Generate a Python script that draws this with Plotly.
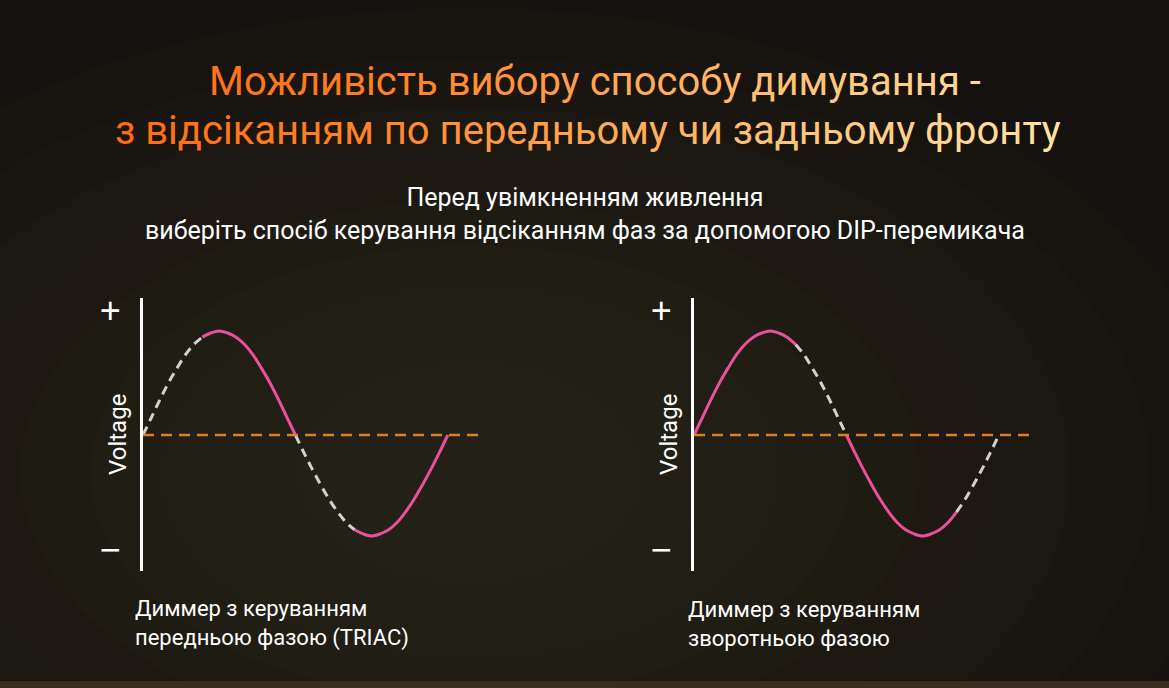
import plotly.graph_objects as go

# one mains cycle, phase angle in degrees and normalised voltage
phase = [0, 10, 20, 30, 40, 50, 60, 70, 80, 90, 100, 110, 120, 130, 140, 150, 160, 170, 180,
         190, 200, 210, 220, 230, 240, 250, 260, 270, 280, 290, 300, 310, 320, 330, 340, 350, 360]
voltage = [0, 0.17, 0.34, 0.5, 0.64, 0.77, 0.87, 0.94, 0.98, 1.0, 0.98, 0.94, 0.87, 0.77, 0.64, 0.5, 0.34, 0.17, 0,
           -0.17, -0.33, -0.48, -0.62, -0.74, -0.84, -0.91, -0.95, -0.97, -0.95, -0.91, -0.84, -0.74, -0.62, -0.48, -0.33, -0.17, 0]

# (start, end, conducting?) segments of the cycle for each dimmer
leading_segments = [(0, 70, False), (70, 180, True), (180, 250, False), (250, 360, True)]
trailing_segments = [(0, 120, True), (120, 180, False), (180, 310, True), (310, 360, False)]

title_lines = ["Можливість вибору способу димування -",
               "з відсіканням по передньому чи задньому фронту"]
subtitle = "Перед увімкненням живлення<br>виберіть спосіб керування відсіканням фаз за допомогою DIP-перемикача"
captions = ["Диммер з керуванням<br>передньою фазою (TRIAC)",
            "Диммер з керуванням<br>зворотньою фазою"]

PINK = "#E8509C"
GREY = "#D0D0D0"
ORANGE = "#E27D22"
FONT = "Roboto"
BG = "#15110E"

W, H = 1169, 688


def px_x(p):
    return p / W


def px_y(p):
    return 1 - p / H


def lerp_color(stops, t):
    t = min(max(t, 0), 1)
    for (t0, c0), (t1, c1) in zip(stops, stops[1:]):
        if t0 <= t <= t1:
            f = (t - t0) / (t1 - t0) if t1 > t0 else 0
            rgb = [int(round(int(c0[i:i + 2], 16) + f * (int(c1[i:i + 2], 16) - int(c0[i:i + 2], 16))))
                   for i in (1, 3, 5)]
            return "#%02X%02X%02X" % tuple(rgb)
    return stops[-1][1]


grad = [(0.0, "#FF6A12"), (0.3, "#FF8428"), (0.55, "#FFAC5A"), (0.8, "#FFCD86"), (1.0, "#FFE4A4")]


def gradient_text(line, x0, x1):
    # colour each character by its horizontal position on the page
    out = []
    n = len(line)
    for i, ch in enumerate(line):
        xpos = x0 + (x1 - x0) * (i + 0.5) / n
        t = (xpos - 118) / (1058 - 118)
        out.append(f'<span style="color:{lerp_color(grad, t)}">{ch}</span>')
    return "".join(out)


fig = go.Figure()

panels = [("x", "y", leading_segments), ("x2", "y2", trailing_segments)]
for xa, ya, segs in panels:
    for a, b, on in segs:
        i0, i1 = phase.index(a), phase.index(b)
        fig.add_trace(go.Scatter(
            x=phase[i0:i1 + 1], y=voltage[i0:i1 + 1],
            mode="lines", xaxis=xa, yaxis=ya,
            line=dict(color=PINK if on else GREY, width=3,
                      dash="solid" if on else "9px,6px", shape="spline"),
            hoverinfo="skip", showlegend=False,
        ))

xdoms = [[px_x(143), px_x(480)], [px_x(694), px_x(1031)]]
ydom = [px_y(570), px_y(293)]

axis_common_x = dict(range=[0, 398], visible=False, fixedrange=True)
axis_common_y = dict(
    range=[-1.31, 1.32], domain=ydom, showgrid=False, zeroline=False,
    showline=True, linecolor="white", linewidth=3,
    tickmode="array", tickvals=[1.2, -1.1], ticktext=["+", "−"],
    tickfont=dict(family="Liberation Sans", size=36, color="white"),
    ticks="", ticklabelstandoff=12, fixedrange=True,
)

fig.update_layout(
    xaxis=dict(domain=xdoms[0], anchor="y", **axis_common_x),
    xaxis2=dict(domain=xdoms[1], anchor="y2", **axis_common_x),
    yaxis=dict(anchor="x", **axis_common_y),
    yaxis2=dict(anchor="x2", **axis_common_y),
)

# background glow, drawn first so it stays underneath
cx, cy = 470, 470
for rx, ry in [(760, 470), (680, 420), (600, 370), (520, 320), (450, 275),
               (380, 230), (310, 190), (240, 150), (170, 110)]:
    fig.add_shape(type="circle", xref="paper", yref="paper",
                  x0=px_x(cx - rx), x1=px_x(cx + rx), y0=px_y(cy + ry), y1=px_y(cy - ry),
                  fillcolor="#5C4834", opacity=0.035, line_width=0, layer="below")
fig.add_shape(type="rect", xref="paper", yref="paper", x0=0, x1=1, y0=0, y1=px_y(681),
              fillcolor="#3A2C1F", line_width=0, layer="below")

# zero reference lines
for xa, ya in [("x", "y"), ("x2", "y2")]:
    fig.add_shape(type="line", xref=f"{xa} domain", yref=ya, x0=0, x1=1, y0=0, y1=0,
                  line=dict(color=ORANGE, width=2.5, dash="11px,7px"))
    fig.add_annotation(xref=xa, yref=ya, x=0, y=0, xshift=-25, text="Voltage", textangle=-90,
                       showarrow=False, font=dict(family=FONT, size=24, color="white"))

# titles
title_spans = [(205, 985), (118, 1058)]
for line, (x0, x1), yc in zip(title_lines, title_spans, [74, 124]):
    fig.add_annotation(xref="paper", yref="paper", x=px_x((x0 + x1) / 2), y=px_y(yc),
                       text=gradient_text(line, x0, x1), showarrow=False,
                       xanchor="center", yanchor="middle",
                       font=dict(family=FONT, size=40))

fig.add_annotation(xref="paper", yref="paper", x=px_x(585), y=px_y(208), text=subtitle,
                   showarrow=False, xanchor="center", yanchor="middle",
                   font=dict(family=FONT, size=25, color="white"))

for cap, x0 in zip(captions, [133, 686]):
    fig.add_annotation(xref="paper", yref="paper", x=px_x(x0), y=px_y(623), text=cap,
                       showarrow=False, xanchor="left", yanchor="middle", align="left",
                       font=dict(family=FONT, size=22, color="white"))

fig.update_layout(
    width=W, height=H,
    margin=dict(l=0, r=0, t=0, b=0),
    paper_bgcolor=BG,
    plot_bgcolor="rgba(0,0,0,0)",
    showlegend=False,
)

page_fix = ("document.body.style.margin='0';document.body.style.overflow='hidden';"
            f"document.body.style.background='{BG}';")
fig.write_html("out.html", config={"displayModeBar": False}, post_script=page_fix)
